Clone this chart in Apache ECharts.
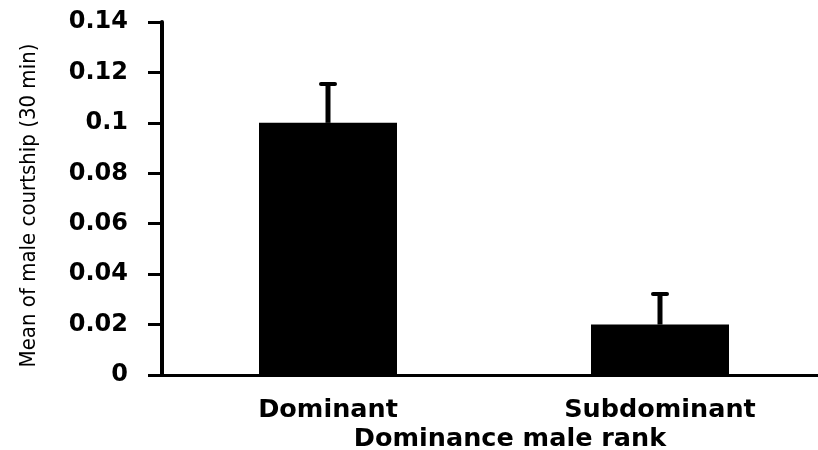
<!DOCTYPE html>
<html>
<head>
<meta charset="utf-8">
<script src="https://cdn.jsdelivr.net/npm/echarts@6/dist/echarts.min.js"></script>
<style>
  html, body { margin: 0; padding: 0; background: #fff; }
  #chart { width: 818px; height: 450px; }
</style>
</head>
<body>
<div id="chart"></div>
<script>
// Mean male courtship per 30 min by dominance rank, with upper error bars
const categories = ['Dominant', 'Subdominant'];
const means = [0.1, 0.02];
const errorTops = [0.1154, 0.0321];
const yTicks = [0, 0.02, 0.04, 0.06, 0.08, 0.1, 0.12, 0.14];

const chart = echarts.init(document.getElementById('chart'));

const errorData = categories.map((c, i) => [i, means[i], errorTops[i]]);

chart.setOption({
  animation: false,
  backgroundColor: '#ffffff',
  grid: { left: 162, width: 664, top: 22, bottom: 75, outerBoundsMode: 'none' },
  graphic: [{
    type: 'text',
    x: 510,
    y: 439,
    style: {
      text: 'Dominance male rank',
      font: 'bold 25.5px "DejaVu Sans"',
      fill: '#000',
      textAlign: 'center',
      textVerticalAlign: 'middle'
    }
  }],
  xAxis: {
    type: 'category',
    data: categories,
    axisLine: { lineStyle: { color: '#000', width: 3 } },
    axisTick: { show: false },
    axisLabel: {
      color: '#000',
      fontFamily: 'DejaVu Sans',
      fontWeight: 'bold',
      fontSize: 25.5,
      margin: 22
    }
  },
  yAxis: {
    type: 'value',
    min: yTicks[0],
    max: yTicks[yTicks.length - 1],
    interval: 0.02,
    name: 'Mean of male courtship (30 min)',
    nameLocation: 'middle',
    nameGap: 122,
    nameTextStyle: {
      color: '#000',
      fontStyle: 'normal condensed',
      fontFamily: '"DejaVu Sans Condensed", "DejaVu Sans", sans-serif',
      fontSize: 22,
      padding: [0, 14, 0, 0]
    },
    splitLine: { show: false },
    axisLine: { show: true, lineStyle: { color: '#000', width: 4 } },
    axisTick: { show: true, length: 14, lineStyle: { color: '#000', width: 3 } },
    axisLabel: {
      color: '#000',
      fontFamily: 'DejaVu Sans',
      fontWeight: 'bold',
      fontSize: 24,
      margin: 34,
      formatter: v => String(Math.round(v * 100) / 100)
    }
  },
  series: [
    {
      type: 'bar',
      data: means,
      barWidth: 138,
      itemStyle: { color: '#000' },
      z: 2
    },
    {
      type: 'custom',
      data: errorData,
      z: 3,
      renderItem: (params, api) => {
        const x = api.coord([api.value(0), api.value(1)])[0];
        const yBase = api.coord([api.value(0), api.value(1)])[1];
        const yTop = api.coord([api.value(0), api.value(2)])[1];
        const half = 7;
        return {
          type: 'group',
          children: [
            {
              type: 'line',
              shape: { x1: x, y1: yBase, x2: x, y2: yTop },
              style: { stroke: '#000', lineWidth: 5 }
            },
            {
              type: 'line',
              shape: { x1: x - half, y1: yTop, x2: x + half, y2: yTop },
              style: { stroke: '#000', lineWidth: 4, lineCap: 'round' }
            }
          ]
        };
      }
    }
  ]
});
</script>
</body>
</html>
